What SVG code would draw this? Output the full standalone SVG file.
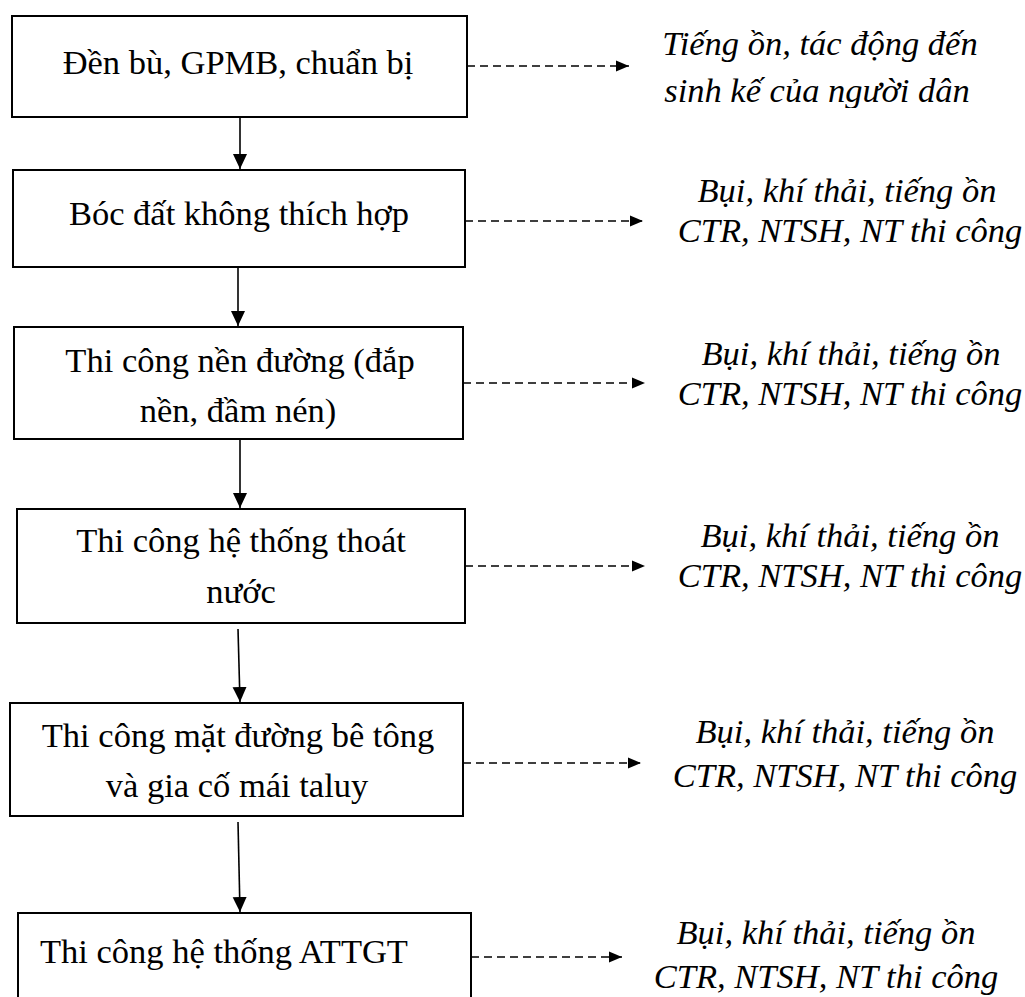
<svg xmlns="http://www.w3.org/2000/svg" width="1025" height="997" viewBox="0 0 1025 997">
<style>
.box{fill:#fff;stroke:#000;stroke-width:2}
.t{font-family:"Liberation Serif","Times New Roman",serif;font-size:34.5px;fill:#000}
.c{text-anchor:middle}
.i{font-style:italic;text-anchor:middle}
.solid{stroke:#000;stroke-width:1.6;fill:none}
.dash{stroke:#000;stroke-width:1.6;fill:none;stroke-dasharray:8 5}
</style>
<defs>
<marker id="ah" markerUnits="userSpaceOnUse" markerWidth="16" markerHeight="16" viewBox="0 0 16 16" refX="15" refY="8" orient="auto">
<path d="M0,1 L15,8 L0,15 Z" fill="#000"/>
</marker>
<marker id="ahd" markerUnits="userSpaceOnUse" markerWidth="14" markerHeight="14" viewBox="0 0 14 14" refX="13" refY="7" orient="auto">
<path d="M0,1.5 L13,7 L0,12.5 Z" fill="#000"/>
</marker>
<clipPath id="clip1"><rect x="600" y="0" width="425" height="108"/></clipPath>
</defs>
<rect width="1025" height="997" fill="#fff"/>
<g id="connectors">
<line class="solid" x1="240" y1="117" x2="240" y2="169" marker-end="url(#ah)"/>
<line class="solid" x1="238" y1="267" x2="238" y2="326" marker-end="url(#ah)"/>
<line class="solid" x1="240" y1="439" x2="240" y2="508" marker-end="url(#ah)"/>
<line class="solid" x1="238" y1="629" x2="240" y2="702" marker-end="url(#ah)"/>
<line class="solid" x1="238" y1="822" x2="240" y2="912" marker-end="url(#ah)"/>
<line class="dash" x1="467" y1="66" x2="629" y2="66" marker-end="url(#ahd)"/>
<line class="dash" x1="465" y1="221" x2="643" y2="221" marker-end="url(#ahd)"/>
<line class="dash" x1="463" y1="383" x2="645" y2="383" marker-end="url(#ahd)"/>
<line class="dash" x1="465" y1="566" x2="645" y2="566" marker-end="url(#ahd)"/>
<line class="dash" x1="463" y1="763" x2="641" y2="763" marker-end="url(#ahd)"/>
<line class="dash" x1="471" y1="957" x2="622" y2="957" marker-end="url(#ahd)"/>
</g>
<g id="n1">
<rect class="box" x="12" y="16" width="455" height="101"/>
<text class="t c" x="238" y="74">Đền bù, GPMB, chuẩn bị</text>
</g>
<g id="n2">
<rect class="box" x="13" y="170" width="452" height="97"/>
<text class="t c" x="239" y="225">Bóc đất không thích hợp</text>
</g>
<g id="n3">
<rect class="box" x="14" y="327" width="449" height="112"/>
<text class="t c" x="240" y="372">Thi công nền đường (đắp</text>
<text class="t c" x="238" y="422">nền, đầm nén)</text>
</g>
<g id="n4">
<rect class="box" x="17" y="509" width="448" height="114"/>
<text class="t c" x="241" y="552">Thi công hệ thống thoát</text>
<text class="t c" x="241" y="603">nước</text>
</g>
<g id="n5">
<rect class="box" x="10" y="703" width="453" height="113"/>
<text class="t c" x="238" y="747">Thi công mặt đường bê tông</text>
<text class="t c" x="237" y="797">và gia cố mái taluy</text>
</g>
<g id="n6">
<rect class="box" x="18" y="913" width="453" height="100"/>
<text class="t" x="40" y="963">Thi công hệ thống ATTGT</text>
</g>
<g id="e1" clip-path="url(#clip1)">
<text class="t i" x="820" y="55">Tiếng ồn, tác động đến</text>
<text class="t i" x="817" y="102">sinh kế của người dân</text>
</g>
<g id="e2">
<text class="t i" x="847" y="202">Bụi, khí thải, tiếng ồn</text>
<text class="t i" x="850" y="242">CTR, NTSH, NT thi công</text>
</g>
<g id="e3">
<text class="t i" x="851" y="365">Bụi, khí thải, tiếng ồn</text>
<text class="t i" x="850" y="405">CTR, NTSH, NT thi công</text>
</g>
<g id="e4">
<text class="t i" x="850" y="547">Bụi, khí thải, tiếng ồn</text>
<text class="t i" x="850" y="587">CTR, NTSH, NT thi công</text>
</g>
<g id="e5">
<text class="t i" x="845" y="743">Bụi, khí thải, tiếng ồn</text>
<text class="t i" x="845" y="787">CTR, NTSH, NT thi công</text>
</g>
<g id="e6">
<text class="t i" x="826" y="944">Bụi, khí thải, tiếng ồn</text>
<text class="t i" x="826" y="988">CTR, NTSH, NT thi công</text>
</g>
</svg>
